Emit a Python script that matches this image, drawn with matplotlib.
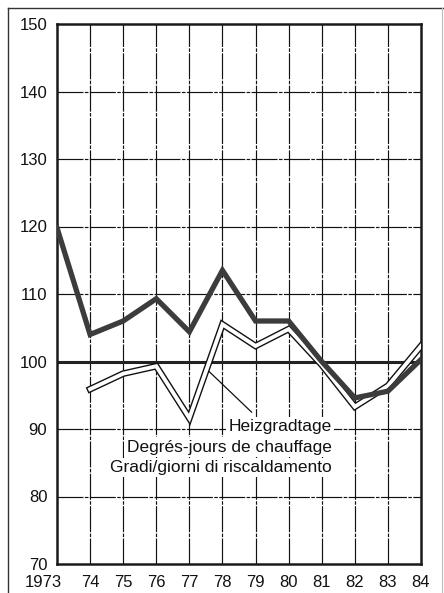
import matplotlib
matplotlib.use("Agg")
import matplotlib.pyplot as plt
import matplotlib.transforms as mtransforms
from matplotlib.lines import Line2D
import numpy as np

plt.rcParams['font.family'] = ['Liberation Sans', 'DejaVu Sans']

years = [1973, 1974, 1975, 1976, 1977, 1978, 1979, 1980, 1981, 1982, 1983, 1984]
year_labels = ["1973", "74", "75", "76", "77", "78", "79", "80", "81", "82", "83", "84"]
consumption = [119.8, 104.0, 106.0, 109.3, 104.4, 113.5, 106.0, 106.0, 100.0, 94.6, 95.6, 100.3]
dd_years = [1974, 1975, 1976, 1977, 1978, 1979, 1980, 1981, 1982, 1983, 1984]
degree_days = [95.9, 98.2, 99.3, 91.6, 105.5, 102.3, 104.8, 99.5, 93.3, 96.4, 102.3]
y_ticks = [70, 80, 90, 100, 110, 120, 130, 140, 150]
label_lines = ["Heizgradtage", "Degrés-jours de chauffage", "Gradi/giorni di riscaldamento"]

W, H = 444, 593
fig = plt.figure(figsize=(W / 100, H / 100), dpi=100)
fig.patch.set_facecolor("white")
ax = fig.add_axes([57 / W, 1 - 564 / H, (421 - 57) / W, (564 - 24) / H])

ax.set_xlim(years[0], years[-1])
ax.set_ylim(70, 150)

grid_ls = (0, (22, 1.2, 3, 1.2))
for x in years[1:-1]:
    ax.axvline(x, color="#111111", lw=0.85, ls=grid_ls, zorder=1)
for y in y_ticks[1:-1]:
    if y == 100:
        ax.axhline(y, color="#222222", lw=2.2, zorder=1.5)
    else:
        ax.axhline(y, color="#111111", lw=0.85, ls=grid_ls, zorder=1)

# degree days double line
ax.plot(dd_years, degree_days, color="#111111", lw=4.8, solid_joinstyle="miter", zorder=3)
ax.plot(dd_years, degree_days, color="white", lw=2.8, solid_joinstyle="miter", zorder=3.1)

# main thick line
ax.plot(years, consumption, color="#3c3c3c", lw=3.8, solid_joinstyle="miter", zorder=4)

# pointer line
ax.plot([1977.6, 1978.88], [98.5, 92.5], color="#111111", lw=0.9, zorder=3.2)

ys = [90.3, 87.3, 84.3]
for txt, yy in zip(label_lines, ys):
    ax.text(1981.3, yy, txt, ha="right", va="center", fontsize=12.5, color="#111111",
            bbox=dict(facecolor="white", edgecolor="none", pad=1.8), zorder=5)

for s in ax.spines.values():
    s.set_linewidth(1.8)
    s.set_color("#1a1a1a")

ax.set_xticks(years)
ax.set_xticklabels(year_labels)
ax.set_yticks(y_ticks)
ax.tick_params(length=0, labelsize=12, colors="#111111")
ax.tick_params(axis="x", pad=8)
ax.tick_params(axis="y", pad=7)
first = ax.get_xticklabels()[0]
first.set_horizontalalignment("right")
first.set_transform(first.get_transform() + mtransforms.ScaledTranslation(5 / 100, 0, fig.dpi_scale_trans))

fig.add_artist(Line2D([8 / W, 8 / W], [0, 1 - 8 / H], transform=fig.transFigure, color="#333333", lw=1.0))
fig.add_artist(Line2D([8 / W, 1], [1 - 8 / H, 1 - 8 / H], transform=fig.transFigure, color="#333333", lw=1.0))
fig.add_artist(Line2D([442 / W, 442 / W], [0, 1 - 8 / H], transform=fig.transFigure, color="#bbbbbb", lw=0.8))

fig.savefig("out.png", dpi=100, facecolor="white")
